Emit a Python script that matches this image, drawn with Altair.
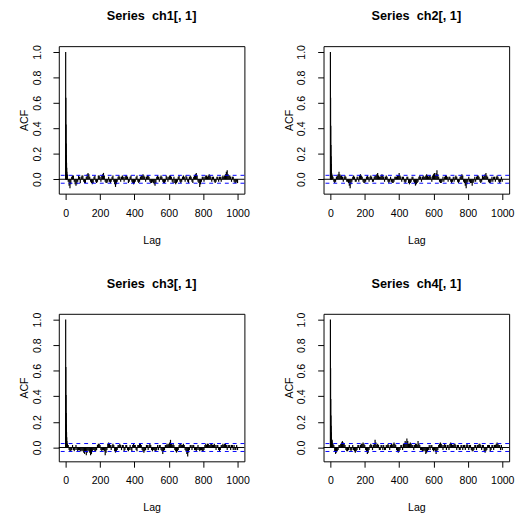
import altair as alt
import pandas as pd

titles = ["Series\u00a0 ch1[, 1]", "Series\u00a0 ch2[, 1]", "Series\u00a0 ch3[, 1]", "Series\u00a0 ch4[, 1]"]

# ACF values x100; head = lags 0..9, tail = lags 10, 15, ..., 1000
head_ch1 = [100, 64, 43, 28, 19, 13, 9, 6, 4, 3]
tail_ch1 = [
    3, -2, -5, -7, -4, 2, 3, 3, -2, -4, -5, -4, -2, 3, 2, -3, 2, 3, 3, -2,
    -3, -3, 2, 4, 5, 4, 2, -2, -3, -4, -3, 2, 3, -2, -3, -2, 3, 3, 2, -2,
    3, 4, 5, 3, -2, -3, -3, -2, 2, -2, -3, -2, 2, 3, -2, -4, -6, -4, -2, 2,
    3, 2, -2, 2, 3, 2, -2, 2, 3, 3, 2, -3, -2, 2, 3, -2, -3, -4, -3, -2,
    2, 3, -2, -3, -2, 2, 3, 3, 4, 3, 2, -2, 2, 3, 3, 2, -2, -3, -3, -2,
    -3, -4, -5, -3, 2, 3, 2, -2, 2, 3, 2, -2, -3, -3, -2, 3, 2, -2, 2, 3,
    3, 2, -2, -3, 2, -3, -4, -3, -2, 2, 3, -2, -3, -2, 2, 3, 2, -2, 3, 2,
    -2, -3, 2, 3, 2, -2, -3, 2, 3, 4, 5, 3, -2, -3, -6, -4, -2, 2, 2, -2,
    2, 3, 3, 2, 3, 4, 3, 2, -2, 2, 2, -2, -3, -2, 2, 2, -2, 2, 2, -2,
    2, 3, 2, 3, 4, 6, 7, 4, 3, 3, 2, -2, 2, 2, -2, -3, -3, -2, -3,
]
head_ch2 = [100, 64, 42, 27, 18, 12, 8, 5, 4, 3]
tail_ch2 = [
    3, 2, -2, -3, -2, 2, 3, 4, 6, 4, 3, 3, 2, -2, 2, 3, 2, -2, -2, -3,
    -5, -7, -4, -2, 2, 3, 2, -2, -2, 2, 2, -2, 3, 4, 3, 2, -2, -3, -3, -2,
    2, 3, 2, -2, 2, 3, 2, -2, -2, 2, 3, 3, 4, 5, 3, 2, 2, 3, 4, 3,
    2, -2, 2, 3, 2, -2, -3, -2, 2, -2, -3, -3, -2, 2, 2, 2, 3, 3, 5, 3,
    2, -2, 2, 2, -2, -3, -2, 2, 2, -3, -4, -3, -2, 2, 2, -2, -3, -5, -4, -3,
    -2, 2, 3, 2, -2, 2, 3, 2, 2, 3, 4, 3, 2, 3, 3, 2, -2, 3, 4, 5,
    3, 5, 7, 4, 2, -2, -3, -3, -2, 2, -2, 2, 3, 3, 2, -2, 2, 2, -2, -3,
    -2, 2, -2, 2, 3, 2, -2, -3, -2, 2, 3, 4, 3, -2, -3, -5, -7, -4, -2, 2,
    -2, -3, -3, -5, -3, -2, 2, -2, 2, 3, 3, 2, -2, -3, -2, 3, 2, 3, 4, 5,
    3, 2, -2, -3, -3, -2, 2, -2, 2, 2, -2, 2, 3, 2, -2, -3, -2, 2, -2,
]
head_ch3 = [100, 63, 41, 27, 18, 12, 8, 5, 3, 2]
tail_ch3 = [
    3, 2, -2, -3, -3, -2, 2, -2, -3, -2, 2, -2, -3, -2, -2, -3, -3, -2, -3, -4,
    -5, -3, -6, -4, -2, -3, -4, -6, -5, -3, -2, -2, -3, -3, -2, 2, 3, 3, 2, -2,
    -3, -2, -2, -3, -6, -4, -2, 3, 4, 3, 2, -2, 2, 3, 2, -3, -4, -3, -2, 2,
    2, 3, 2, -2, 2, 2, -3, -2, 2, 2, -2, -3, -2, 2, -2, -3, 2, 3, 2, 2,
    -2, -3, 2, 2, 3, 3, 2, -2, -3, -4, -3, -2, 2, 2, -2, 2, 3, 2, -2, -3,
    -2, -2, -3, -3, -2, 2, -2, 2, 2, -2, -3, -5, -3, -2, 2, 2, 3, 2, 3, 4,
    6, 3, 2, 3, 2, -2, -3, -4, -3, -2, 2, 3, 3, 2, 2, 3, 2, -2, -3, -5,
    -7, -4, -2, 2, 2, -2, 2, 2, -2, -2, -3, -2, 2, -2, -3, -2, -2, -3, -3, -2,
    2, 3, 2, 3, 3, 2, 2, 3, 3, 2, 2, 3, 2, -2, 2, 2, -2, -3, -2, 2,
    2, 3, 2, 3, 3, 2, -2, 2, 2, 2, -2, 2, 2, -2, 2, -2, -2, 2, -2,
]
head_ch4 = [100, 62, 38, 25, 17, 12, 8, 6, 5, 4]
tail_ch4 = [
    6, 3, 2, -3, -5, -4, -3, -2, 2, 2, 3, 4, 5, 4, 3, 2, -2, -3, -3, -2,
    2, -2, -3, -2, 2, -2, -3, -4, -3, -2, 2, 2, -2, 2, 3, 3, 4, 3, 2, -2,
    -3, -5, -4, -2, 2, 3, 2, -2, 2, 3, 6, 4, 2, 3, 2, -2, -2, 2, 2, -2,
    2, -2, -2, 2, 2, 3, 2, -2, 2, 3, 2, 3, 4, 3, 2, -2, -3, -4, -3, -2,
    2, 2, -2, 3, 3, 5, 4, 7, 5, 3, 3, 4, 3, 2, 2, -2, 2, 3, 3, 2,
    5, 3, 2, -2, -2, -3, -3, -2, -3, -5, -4, -3, -2, 2, -2, 2, 2, -2, -3, -2,
    -3, -5, -3, -2, 2, 3, 4, 3, 2, -2, 2, 3, 2, -2, 2, 2, -2, 3, 4, 3,
    2, 2, 3, 3, 2, -2, 2, 2, -2, -2, 2, 2, -2, 2, 2, -2, 2, 3, 2, -2,
    2, 2, -2, -3, -3, -2, 2, 2, -2, 2, 2, 3, 3, 2, -2, 2, 2, -3, -4, -3,
    -2, 2, 2, 2, -3, -2, 2, 2, -2, 2, 2, 3, 4, 3, 2, 2, -2, 2, -2,
]

ci = 0.031
x_ticks = [0, 200, 400, 600, 800, 1000]
y_ticks = [0.0, 0.2, 0.4, 0.6, 0.8, 1.0]
FONT = "Liberation Sans"


def panel(title, head, tail, ymin):
    lags = list(range(len(head))) + list(range(10, 10 + 5 * len(tail), 5))
    vals = [v / 100 for v in head + tail]
    df = pd.DataFrame({"lag": lags, "acf": vals})
    xs = alt.X("lag:Q", scale=alt.Scale(domain=[-40, 1040], nice=False, zero=False),
               axis=alt.Axis(values=x_ticks, title="Lag", format="d", labelFlush=False,
                             labelOverlap=False))
    yaxis = alt.Axis(values=y_ticks, title="ACF", format=".1f", labelAngle=270,
                     labelAlign="center", labelBaseline="bottom", labelFlush=False,
                     labelOverlap=False)
    ys = alt.Y("acf:Q", scale=alt.Scale(domain=[ymin, 1.045], nice=False, zero=False), axis=yaxis)
    bars = alt.Chart(df).mark_rule(color="black", strokeWidth=1.2).encode(
        x=xs, y=ys, y2=alt.datum(0))
    zero = alt.Chart(pd.DataFrame({"acf": [0.0]})).mark_rule(color="black", strokeWidth=1).encode(
        y=alt.Y("acf:Q", axis=yaxis))
    band = alt.Chart(pd.DataFrame({"acf": [ci, -ci]})).mark_rule(
        color="blue", strokeWidth=1, strokeDash=[4, 4]).encode(y=alt.Y("acf:Q", axis=yaxis))
    return alt.layer(bars, zero, band).properties(
        width=190, height=151,
        title=alt.TitleParams(title, font=FONT, fontSize=13, fontWeight="bold", color="black", offset=22),
    )


charts = [
    panel(titles[0], head_ch1, tail_ch1, -0.113),
    panel(titles[1], head_ch2, tail_ch2, -0.113),
    panel(titles[2], head_ch3, tail_ch3, -0.108),
    panel(titles[3], head_ch4, tail_ch4, -0.108),
]

chart = alt.concat(*charts, columns=2, spacing={"row": 123, "column": 81}, bounds="flush").properties(
    padding={"left": 10, "top": -5, "right": 0, "bottom": 0}
).configure_view(stroke="black", strokeWidth=1).configure_axis(
    labelFont=FONT, labelFontSize=10.8, labelColor="black", labelOverlap=False,
    titleFont=FONT, titleFontSize=10.8, titleFontWeight="normal", titleColor="black",
    tickColor="black", tickSize=6, domain=False, grid=False,
).configure_axisX(labelPadding=8, titlePadding=17).configure_axisY(labelPadding=11, titlePadding=2)

chart.save("out.html", embed_options={"renderer": "svg", "actions": False})
